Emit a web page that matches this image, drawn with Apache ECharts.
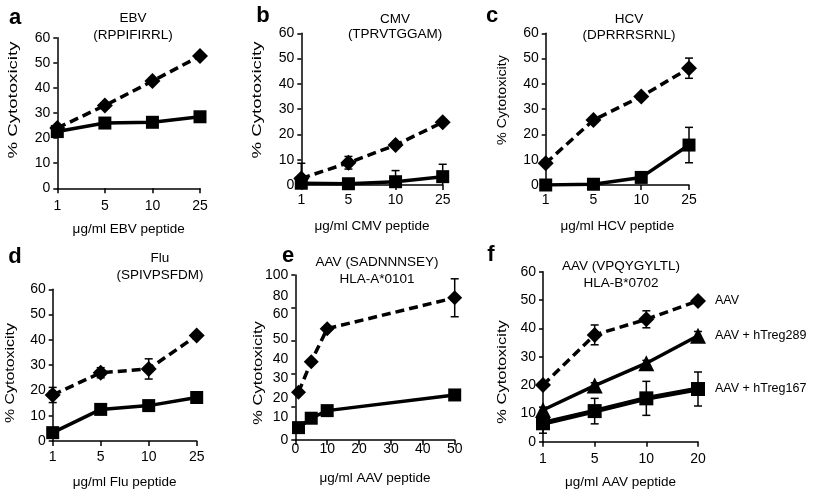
<!DOCTYPE html>
<html>
<head>
<meta charset="utf-8">
<script src="https://cdn.jsdelivr.net/npm/echarts@6/dist/echarts.min.js"></script>
<style>
  html, body { margin: 0; padding: 0; background: #fff; }
  #chart { width: 816px; height: 492px; }
</style>
</head>
<body>
<div id="chart"></div>
<script>
// doses (x categories)
const doses = ['1', '5', '10', '25']
const dosesF = ['1', '5', '10', '20']
const dosesE = [1, 5, 10, 50]

// a  EBV
const ebvPep = [24, 33, 42.7, 52.7]
const ebvTreg = [22.6, 26, 26.3, 28.5]
// b  CMV
const cmvPep = [2.6, 8.8, 15.8, 24.8]
const cmvPepErr = [6, 2.5, 0, 0]
const cmvTreg = [0.7, 0.5, 1.3, 3.3]
const cmvTregErr = [0, 0, 4.4, 4.9]
// c  HCV
const hcvPep = [8.6, 25.7, 35, 46.2]
const hcvPepErr = [0, 0, 0, 4]
const hcvTreg = [0, 0.3, 3, 15.8]
const hcvTregErr = [0, 0, 0, 7]
// d  Flu
const fluPep = [18.2, 27, 28.5, 41.7]
const fluPepErr = [3, 2, 4, 0]
const fluTreg = [3.3, 12.5, 14, 17.2]
// e  AAV HLA-A*0101
const aavAPep = [29, 47.5, 67.5, 86.2]
const aavAPepErr = [0, 0, 0, 11.5]
const aavATreg = [7.5, 13.2, 17.8, 27.3]
const eTickVals = [0, 14, 25.5, 37.5, 49, 61, 76, 87, 100]
const eTickText = ['0', '10', '20', '30', '40', '50', '60', '80', '100']
// f  AAV HLA-B*0702
const aavB = [20, 37.7, 43.2, 49.7]
const aavBErr = [0, 3.5, 3, 0]
const aavB289 = [11.2, 19.8, 27.7, 37.4]
const aavB289Err = [1, 1, 1, 1.5]
const aavB167 = [6.5, 10.8, 15.3, 18.6]
const aavB167Err = [3.5, 4.5, 6, 6]

const panelLetters = ['a', 'b', 'c', 'd', 'e', 'f']
const panelTitles = [
  ['EBV', '(RPPIFIRRL)'],
  ['CMV', '(TPRVTGGAM)'],
  ['HCV', '(DPRRRSRNL)'],
  ['Flu', '(SPIVPSFDM)'],
  ['AAV (SADNNNSEY)', 'HLA-A*0101'],
  ['AAV (VPQYGYLTL)', 'HLA-B*0702']
]
const xNames = [
  'μg/ml EBV peptide', 'μg/ml CMV peptide', 'μg/ml HCV peptide',
  'μg/ml Flu peptide', 'μg/ml AAV peptide', 'μg/ml AAV peptide'
]
const yName = '% Cytotoxicity'

const FONT = '"Liberation Sans", Arial, Helvetica, sans-serif'
const chart = echarts.init(document.getElementById('chart'), null, { renderer: 'canvas' })

// plot rectangles
const grids = [
  { left: 57.3, top: 37.7, width: 142.7, height: 150.6 },
  { left: 301.3, top: 33.3, width: 141.4, height: 151.7 },
  { left: 545.7, top: 33.3, width: 143.3, height: 151.7 },
  { left: 52.7, top: 289.3, width: 144, height: 151.7 },
  { left: 295.3, top: 275, width: 159.4, height: 165 },
  { left: 543, top: 271.7, width: 155, height: 170 }
]
const letterPos = [[15, 18], [263, 16], [492, 16], [15, 257], [288, 256], [491, 255]]
const titlePos = [[133, 18, 35], [395, 19, 34], [629, 19, 35], [160, 258, 275], [377, 262, 279], [621, 266, 283]]
const xLabelMargin = [11, 8.5, 8.5, 9.5, 2.5, 10.5]
const xNameGap = [34, 34, 34, 34.5, 31.5, 34]
// y-axis titles are stretched along their length in the original
const yNamePos = [[13, 100], [257, 100], [502, 100], [10, 373], [258, 373], [502, 372]]
const yNameStretch = [1.38, 1.38, 1.06, 1.18, 1.22, 1.22]

const axisLine = { lineStyle: { color: '#000', width: 1.5 } }
const labelStyle = { color: '#000', fontSize: 14, fontFamily: FONT }
const nameStyle = { color: '#000', fontSize: 13.5, fontFamily: FONT }

const xAxes = grids.map((g, i) => {
  const base = {
    gridIndex: i,
    axisLine,
    axisTick: { lineStyle: { color: '#000', width: 1.5 }, length: 5 },
    axisLabel: { ...labelStyle, margin: xLabelMargin[i] },
    splitLine: { show: false },
    name: xNames[i],
    nameLocation: 'middle',
    nameGap: xNameGap[i],
    nameTextStyle: { ...nameStyle }
  }
  if (i === 4) {
    return { ...base, type: 'value', min: 0, max: 50, interval: 10 }
  }
  return { ...base, type: 'category', boundaryGap: false, data: i === 5 ? dosesF : doses }
})

const yAxes = grids.map((g, i) => {
  const base = {
    gridIndex: i,
    type: 'value',
    min: 0,
    max: 60,
    interval: 10,
    axisLine: { show: true, ...axisLine },
    axisTick: { show: true, lineStyle: { color: '#000', width: 1.5 }, length: 4 },
    axisLabel: { ...labelStyle, margin: 7 },
    splitLine: { show: false }
  }
  if (i === 4) {
    base.max = 100
    base.interval = 20
    base.axisLabel = {
      ...base.axisLabel,
      customValues: eTickVals,
      formatter: (v) => {
        const k = eTickVals.indexOf(v)
        return k >= 0 ? eTickText[k] : ''
      }
    }
  }
  return base
})

function dashed(name, gi, data, size) {
  return {
    name, type: 'line', xAxisIndex: gi, yAxisIndex: gi, data,
    symbol: 'diamond', symbolSize: size || 16,
    itemStyle: { color: '#000' },
    lineStyle: { color: '#000', width: 3.5, type: [9, 5] },
    z: 3
  }
}
function solid(name, gi, data, symbol, size, width) {
  return {
    name, type: 'line', xAxisIndex: gi, yAxisIndex: gi, data,
    symbol: symbol || 'rect', symbolSize: size || 13,
    itemStyle: { color: '#000' },
    lineStyle: { color: '#000', width: width || 3.5 },
    z: 3
  }
}
function errBars(gi, xs, vals, errs) {
  const data = []
  vals.forEach((v, i) => { if (errs[i] > 0) data.push([xs[i], v, errs[i]]) })
  return {
    type: 'custom', xAxisIndex: gi, yAxisIndex: gi, z: 2, silent: true,
    encode: { x: 0, y: 1 },
    data,
    renderItem: (params, api) => {
      const x = api.value(0), v = api.value(1), e = api.value(2)
      const hi = api.coord([x, v + e])
      const lo = api.coord([x, Math.max(0, v - e)])
      const st = { stroke: '#000', lineWidth: 1.5 }
      const kids = [
        { type: 'line', shape: { x1: hi[0], y1: hi[1], x2: lo[0], y2: lo[1] }, style: st },
        { type: 'line', shape: { x1: hi[0] - 4, y1: hi[1], x2: hi[0] + 4, y2: hi[1] }, style: st }
      ]
      if (v - e > 0) {
        kids.push({ type: 'line', shape: { x1: lo[0] - 4, y1: lo[1], x2: lo[0] + 4, y2: lo[1] }, style: st })
      }
      return { type: 'group', children: kids }
    }
  }
}

const idx = [0, 1, 2, 3]
const ePairs = (vals) => vals.map((v, i) => [dosesE[i], v])
const endLabel = { show: true, formatter: '{a}', distance: 17, ...nameStyle, fontSize: 12.5 }

const series = [
  dashed('EBV', 0, ebvPep),
  solid('EBV + Treg', 0, ebvTreg),

  dashed('CMV', 1, cmvPep),
  solid('CMV + Treg', 1, cmvTreg),
  errBars(1, idx, cmvPep, cmvPepErr),
  errBars(1, idx, cmvTreg, cmvTregErr),

  dashed('HCV', 2, hcvPep),
  solid('HCV + Treg', 2, hcvTreg),
  errBars(2, idx, hcvPep, hcvPepErr),
  errBars(2, idx, hcvTreg, hcvTregErr),

  dashed('Flu', 3, fluPep),
  solid('Flu + Treg', 3, fluTreg),
  errBars(3, idx, fluPep, fluPepErr),

  dashed('AAV A', 4, ePairs(aavAPep), 15),
  solid('AAV A + Treg', 4, ePairs(aavATreg)),
  errBars(4, dosesE, aavAPep, aavAPepErr),

  { ...dashed('AAV', 5, aavB), endLabel },
  { ...solid('AAV + hTreg289', 5, aavB289, 'triangle', 16, 3.5), endLabel },
  { ...solid('AAV + hTreg167', 5, aavB167, 'rect', 14, 5), endLabel },
  errBars(5, idx, aavB, aavBErr),
  errBars(5, idx, aavB289, aavB289Err),
  errBars(5, idx, aavB167, aavB167Err)
]

const graphic = []
panelLetters.forEach((t, i) => {
  graphic.push({
    type: 'text', x: letterPos[i][0], y: letterPos[i][1], silent: true,
    style: { text: t, font: 'bold 22px ' + FONT, fill: '#000', textAlign: 'center', textVerticalAlign: 'middle' }
  })
})
panelTitles.forEach((t, i) => {
  const [cx, y1, y2] = titlePos[i]
  graphic.push({
    type: 'text', x: cx, y: y1, silent: true,
    style: { text: t[0], font: '13.5px ' + FONT, fill: '#000', textAlign: 'center', textVerticalAlign: 'middle' }
  })
  graphic.push({
    type: 'text', x: cx, y: y2, silent: true,
    style: { text: t[1], font: '13.5px ' + FONT, fill: '#000', textAlign: 'center', textVerticalAlign: 'middle' }
  })
})
yNamePos.forEach((p, i) => {
  graphic.push({
    type: 'text', x: p[0], y: p[1], rotation: Math.PI / 2, scaleX: yNameStretch[i], silent: true,
    style: { text: yName, font: '13.5px ' + FONT, fill: '#000', textAlign: 'center', textVerticalAlign: 'middle' }
  })
})

chart.setOption({
  backgroundColor: '#fff',
  animation: false,
  textStyle: { fontFamily: FONT },
  grid: grids.map(g => ({ ...g, containLabel: false })),
  xAxis: xAxes,
  yAxis: yAxes,
  series,
  graphic
})
</script>
</body>
</html>
